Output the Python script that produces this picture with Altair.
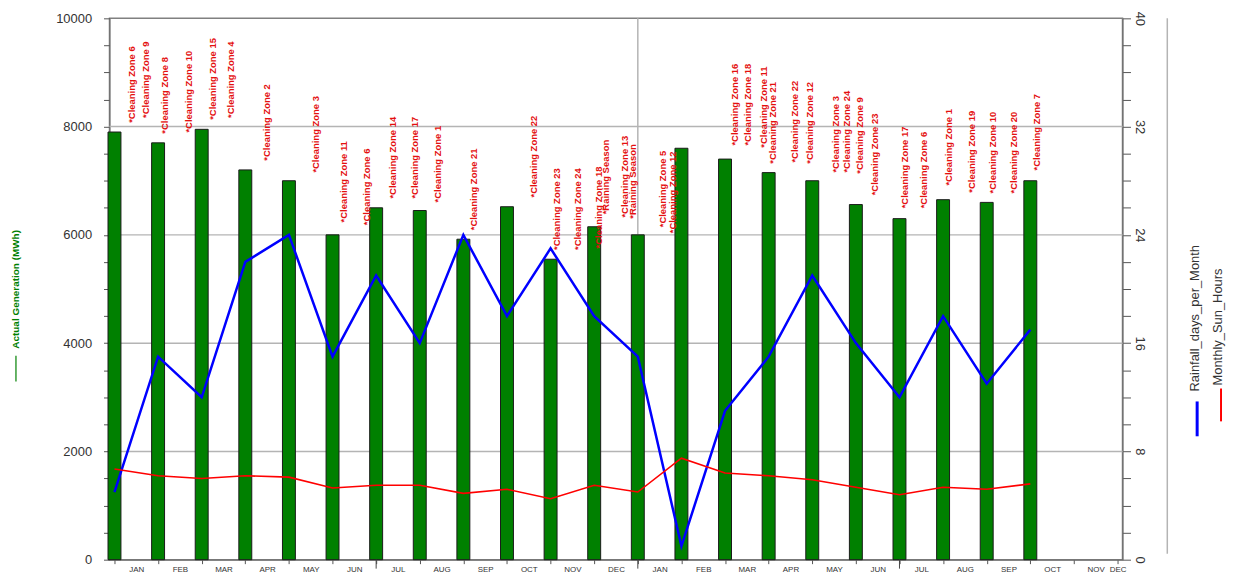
import altair as alt
import pandas as pd

# ---------------- data ----------------
MONTHS = ["JAN", "FEB", "MAR", "APR", "MAY", "JUN", "JUL", "AUG", "SEP", "OCT", "NOV", "DEC",
          "JAN", "FEB", "MAR", "APR", "MAY", "JUN", "JUL", "AUG", "SEP", "OCT", "NOV", "DEC"]
MONTH_INDEX = list(range(22))
GENERATION = [7900, 7700, 7950, 7200, 7000, 6000, 6500, 6450, 5920, 6520, 5550, 6150,
              6000, 7600, 7400, 7150, 7000, 6560, 6300, 6650, 6600, 7000]
RAINFALL_DAYS = [5, 15, 12, 22, 24, 15, 21, 16, 24, 18, 23, 18,
                 15, 1, 11, 15, 21, 16, 12, 18, 13, 17]
SUN_HOURS = [6.7, 6.2, 6.0, 6.2, 6.1, 5.3, 5.5, 5.5, 4.9, 5.2, 4.5, 5.5,
             5.0, 7.5, 6.4, 6.2, 5.9, 5.35, 4.8, 5.35, 5.2, 5.6]

NOTE_TEXT = ["*Cleaning Zone 6", "*Cleaning Zone 9", "*Cleaning Zone 8", "*Cleaning Zone 10",
             "*Cleaning Zone 15", "*Cleaning Zone 4", "*Cleaning Zone 2", "*Cleaning Zone 3",
             "*Cleaning Zone 11", "*Cleaning Zone 6", "*Cleaning Zone 14", "*Cleaning Zone 17",
             "*Cleaning Zone 1", "*Cleaning Zone 21", "*Cleaning Zone  22", "*Cleaning Zone 23",
             "*Cleaning Zone 24", "*Cleaning Zone 18", "*Raining Season", "*Cleaning Zone 13",
             "*Raining Season", "*Cleaning Zone 5", "*Cleaning Zone 12", "*Cleaning Zone 16",
             "*Cleaning Zone 18", "*Cleaning Zone 11", "*Cleaning Zone 21", "*Cleaning Zone 22",
             "*Cleaning Zone 12", "*Cleaning Zone 3", "*Cleaning Zone 24", "*Cleaning Zone 9",
             "*Cleaning Zone 23", "*Cleaning Zone 17", "*Cleaning Zone 6", "*Cleaning Zone 1",
             "*Cleaning Zone 19", "*Cleaning Zone 10", "*Cleaning Zone 20", "*Cleaning Zone 7"]
NOTE_MONTH = [0.41, 0.72, 1.15, 1.70, 2.26, 2.67, 3.50, 4.61,
              5.26, 5.78, 6.39, 6.89, 7.43, 8.25, 9.62, 10.15,
              10.62, 11.12, 11.27, 11.70, 11.88, 12.58, 12.81, 14.23,
              14.53, 14.89, 15.09, 15.61, 15.95, 16.54, 16.79, 17.10,
              17.44, 18.12, 18.57, 19.14, 19.66, 20.15, 20.63, 21.15]
NOTE_LEVEL = [8070, 8160, 7870, 7890, 8125, 8160, 7370, 7150,
              6230, 6180, 6670, 6670, 6600, 6085, 6690, 5720,
              5720, 5750, 6380, 6320, 6300, 6140, 6030, 7650,
              7650, 7610, 7315, 7335, 7315, 7150, 7150, 7130,
              6730, 6490, 6490, 6910, 6780, 6765, 6765, 7190]

GRID_LEVELS = [2000, 4000, 6000, 8000]
YEAR_BREAK = [12]
HALF_YEAR_MARKS = [6, 12, 18]
LEFT_TICKS = list(range(0, 10001, 500))
RIGHT_TICKS = list(range(0, 41, 2))
X_TICKS = [i / 2 for i in range(0, 47)]

SERIES = ["Rainfall_days_per_Month", "Monthly_Sun_Hours"]
LEFT_TITLE = "Actual Generation (MWh)"

# ---------------- tables ----------------
bars_df = pd.DataFrame({"idx": MONTH_INDEX, "gen": GENERATION})
lines_df = pd.DataFrame({
    "idx": MONTH_INDEX * 2,
    "val": RAINFALL_DAYS + SUN_HOURS,
    "series": [SERIES[0]] * len(MONTH_INDEX) + [SERIES[1]] * len(MONTH_INDEX),
})
notes_df = pd.DataFrame({"idx": NOTE_MONTH, "gen": NOTE_LEVEL, "note": NOTE_TEXT})
grid_df = pd.DataFrame({"gen": GRID_LEVELS})
year_df = pd.DataFrame({"idx": YEAR_BREAK})
half_df = pd.DataFrame({"idx": HALF_YEAR_MARKS})

FONT = "Liberation Sans"
x_scale = alt.Scale(domain=[0, 23], nice=False, zero=False)
y_left = alt.Scale(domain=[0, 10000], nice=False)
y_right = alt.Scale(domain=[0, 40], nice=False)

month_arr = "[" + ",".join("'" + m + "'" for m in MONTHS) + "]"
x_label_expr = ("(datum.value % 1 !== 0 || datum.value === 23) ? "
                + month_arr + "[floor(datum.value)] : ''")

x_axis = alt.Axis(
    values=X_TICKS, labelExpr=x_label_expr, title=None, grid=False,
    tickSize=4, tickColor="#555555",
    tickOpacity={"condition": {"test": "datum.value % 1 !== 0", "value": 0}, "value": 1},
    labelFontSize=8, labelColor="#333333", labelPadding=2, labelAngle=0,
    labelOverlap=False, labelFlush=False, domainColor="#666666", labelFont=FONT,
)
left_axis = alt.Axis(
    values=LEFT_TICKS, format="d",
    labelExpr="datum.value % 2000 === 0 ? datum.label : ''",
    title=None, grid=False, tickSize=6, tickColor="#555555",
    labelFontSize=13, labelColor="#333333", labelPadding=12,
    domainColor="#666666", labelFont=FONT, labelOverlap=False,
)
right_axis = alt.Axis(
    orient="right", values=RIGHT_TICKS, format="d",
    labelExpr="datum.value % 8 === 0 ? datum.label : ''",
    title=None, grid=False, tickSize=8, tickColor="#555555",
    labelFontSize=13, labelColor="#333333", labelPadding=2,
    labelAngle=90, labelAlign="center", labelBaseline="bottom",
    domainColor="#666666", labelFont=FONT, labelOverlap=False,
)

X = alt.X("idx:Q", scale=x_scale, axis=x_axis, title=None)
Y_LEFT = alt.Y("gen:Q", scale=y_left, axis=left_axis, title=None)

grid = alt.Chart(grid_df).mark_rule(color="#b4b4b4", strokeWidth=1.5).encode(y=Y_LEFT)
year_rule = alt.Chart(year_df).mark_rule(color="#b4b4b4", strokeWidth=1.5).encode(x=X)
half_ticks = alt.Chart(half_df).mark_rule(color="#444444", strokeWidth=1).encode(
    x=X, y=alt.value(544), y2=alt.value(553),
)
bars = alt.Chart(bars_df).mark_bar(
    size=13, color="#008000", stroke="#1a1a1a", strokeWidth=1
).encode(x=X, y=Y_LEFT)
notes = alt.Chart(notes_df).mark_text(
    angle=270, align="left", baseline="middle", fontSize=9.5,
    fontWeight="bold", color="#e41010", font=FONT
).encode(x=X, y=Y_LEFT, text="note:N")

one_row = pd.DataFrame({"k": [0]})
left_title = alt.Chart(one_row).mark_text(
    text=LEFT_TITLE, angle=270, align="left", baseline="middle",
    fontSize=10, fontWeight="bold", color="#008000", font=FONT
).encode(x=alt.value(-94), y=alt.value(332))
left_key = alt.Chart(one_row).mark_rule(color="#008000", strokeWidth=1.2).encode(
    x=alt.value(-94), y=alt.value(339), y2=alt.value(365)
)
legend_border = alt.Chart(one_row).mark_rule(color="#b4b4b4", strokeWidth=1.5).encode(
    x=alt.value(1063), y=alt.value(0), y2=alt.value(538)
)
rain_text = alt.Chart(one_row).mark_text(
    text=SERIES[0], angle=270, align="left", baseline="middle",
    fontSize=13, color="#333333", font=FONT
).encode(x=alt.value(1091), y=alt.value(375))
rain_key = alt.Chart(one_row).mark_rule(color="#0000ff", strokeWidth=3).encode(
    x=alt.value(1093), y=alt.value(385), y2=alt.value(420)
)
sun_text = alt.Chart(one_row).mark_text(
    text=SERIES[1], angle=270, align="left", baseline="middle",
    fontSize=13, color="#333333", font=FONT
).encode(x=alt.value(1114), y=alt.value(369))
sun_key = alt.Chart(one_row).mark_rule(color="#ff0000", strokeWidth=2).encode(
    x=alt.value(1117), y=alt.value(372), y2=alt.value(405)
)

left = alt.layer(grid, year_rule, bars, half_ticks, notes, left_title, left_key,
                 legend_border, rain_text, rain_key, sun_text, sun_key)

lines = alt.Chart(lines_df).mark_line().encode(
    x=X,
    y=alt.Y("val:Q", scale=y_right, axis=right_axis, title=None),
    color=alt.Color("series:N", scale=alt.Scale(domain=SERIES, range=["#0000ff", "#ff0000"]),
                    legend=None),
    strokeWidth=alt.StrokeWidth("series:N", scale=alt.Scale(domain=SERIES, range=[2.5, 1.6]),
                                legend=None),
)

chart = alt.layer(left, lines).resolve_scale(y="independent").properties(
    width=1018, height=544,
    padding={"left": 102, "top": 9, "right": 105, "bottom": 12},
    autosize=alt.AutoSizeParams(type="none"),
    background="white",
).configure_view(stroke="#808080", strokeWidth=1.5)

chart.save("out.html", embed_options={"renderer": "svg", "actions": False})
